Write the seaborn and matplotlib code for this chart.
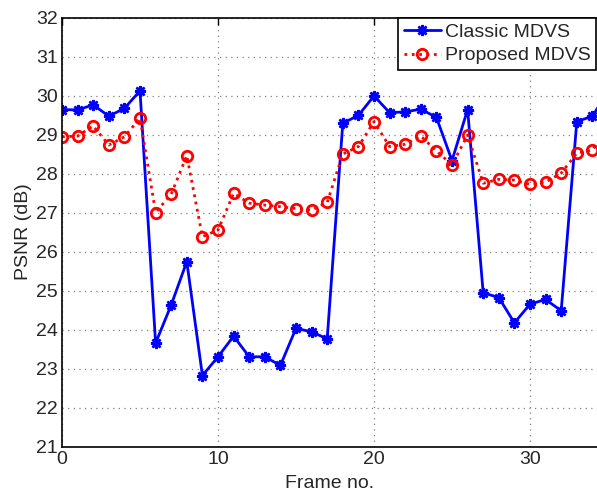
import numpy as np
import pandas as pd
import matplotlib
matplotlib.use("Agg")
import matplotlib.pyplot as plt
import seaborn as sns

# PSNR per frame for the two MDVS schemes
frames = list(range(0, 36))
classic_mdvs = [29.64, 29.63, 29.76, 29.47, 29.67, 30.12, 23.65, 24.63, 25.74, 22.82,
                23.30, 23.83, 23.30, 23.30, 23.08, 24.03, 23.94, 23.76, 29.29, 29.49,
                29.99, 29.56, 29.58, 29.65, 29.44, 28.33, 29.64, 24.94, 24.82, 24.17,
                24.65, 24.77, 24.48, 29.33, 29.47, 30.10]
proposed_mdvs = [28.94, 28.96, 29.22, 28.73, 28.94, 29.42, 27.00, 27.47, 28.46, 26.38,
                 26.55, 27.49, 27.24, 27.19, 27.15, 27.10, 27.06, 27.26, 28.50, 28.69,
                 29.33, 28.69, 28.75, 28.96, 28.58, 28.22, 28.99, 27.75, 27.85, 27.83,
                 27.72, 27.78, 28.01, 28.52, 28.60, 29.20]
series_names = ["Classic MDVS", "Proposed MDVS"]
x_ticks = [0, 10, 20, 30]
y_ticks = list(range(21, 33))

df = pd.DataFrame({"frame": frames, "classic": classic_mdvs, "proposed": proposed_mdvs})

sns.set_style("white")
plt.rcParams["font.family"] = ["Liberation Sans", "DejaVu Sans"]
plt.rcParams["font.size"] = 14

W, H = 597, 492
fig = plt.figure(figsize=(W / 100, H / 100), dpi=100)
ax = fig.add_axes([62 / W, 1 - 446.5 / H, (W - 62) / W, (446.5 - 17.5) / H])

sns.lineplot(data=df, x="frame", y="classic", ax=ax, color="#0000ff",
             linewidth=2, marker=(8, 2, 0), markersize=8, markeredgewidth=1.8,
             markeredgecolor="#0000ff", label=series_names[0])
sns.lineplot(data=df, x="frame", y="proposed", ax=ax, color="#ff0000",
             linewidth=2, linestyle=":", marker="o", markersize=7.5,
             markerfacecolor="none", markeredgewidth=2, markeredgecolor="#ff0000",
             label=series_names[1])

ax.set_xlim(0, (W - 62) / 15.6)
ax.set_ylim(21, 32)
ax.set_xticks(x_ticks)
ax.set_yticks(y_ticks)
ax.set_xlabel("Frame no.", fontsize=14, labelpad=5)
ax.set_ylabel("PSNR (dB)", fontsize=14, labelpad=3)

ax.grid(True, linestyle=(0, (1, 3.5)), color="#808080", linewidth=0.9)
ax.tick_params(direction="in", length=5, width=1, top=True, right=False,
               labelsize=14, color="black", pad=3)
for side in ["left", "bottom", "top"]:
    ax.spines[side].set_color("black")
    ax.spines[side].set_linewidth(1.2)
ax.spines["right"].set_visible(False)

leg = ax.legend(loc="upper left", bbox_to_anchor=(398 / W, 1 - 17.5 / H),
                bbox_transform=fig.transFigure, frameon=True, fancybox=False,
                edgecolor="black", framealpha=1, fontsize=14, handlelength=1.9,
                borderpad=0.3, labelspacing=0.3, handletextpad=0.2, borderaxespad=0)
leg.get_frame().set_linewidth(1.2)

fig.savefig("out.png", dpi=100)
